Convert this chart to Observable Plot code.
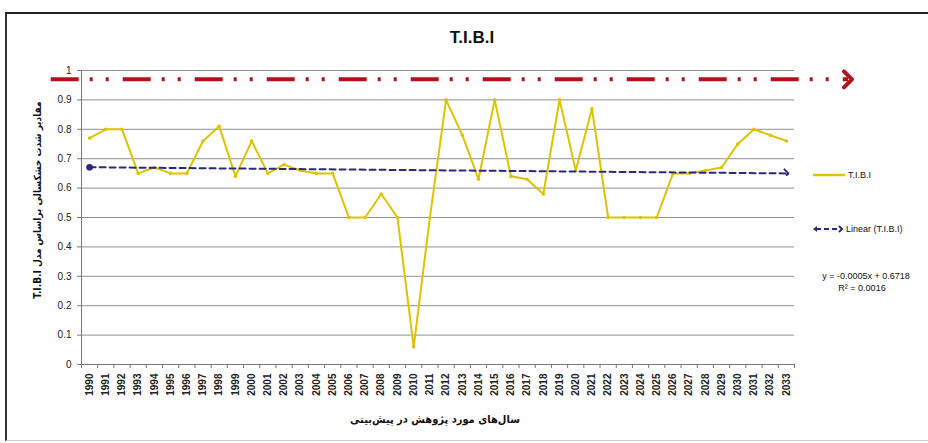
<!DOCTYPE html>
<html><head><meta charset="utf-8">
<script src="https://cdn.jsdelivr.net/npm/d3@7"></script>
<script src="https://cdn.jsdelivr.net/npm/@observablehq/plot@0.6"></script>
<style>
body{margin:0;background:#fff;}
#wrap{position:relative;width:928px;height:443px;overflow:hidden;font-family:"Liberation Sans Narrow","Liberation Sans","DejaVu Sans",Arial,sans-serif;}
#wrap svg.plot{position:absolute;left:0;top:0;}
.frame{position:absolute;left:5px;top:12px;width:940px;height:426px;border-top:2px solid #222;border-left:2px solid #333;border-bottom:1px solid #ccc;}
.t{position:absolute;white-space:nowrap;color:#111;}
</style></head><body>
<div id="wrap">
  <div class="frame"></div>
</div>
<script>
// ---- data ----
const years = [1990,1991,1992,1993,1994,1995,1996,1997,1998,1999,2000,2001,2002,2003,2004,2005,2006,2007,2008,2009,2010,2011,2012,2013,2014,2015,2016,2017,2018,2019,2020,2021,2022,2023,2024,2025,2026,2027,2028,2029,2030,2031,2032,2033];
const tibi = [0.77,0.80,0.80,0.65,0.67,0.65,0.65,0.76,0.81,0.64,0.76,0.65,0.68,0.66,0.65,0.65,0.50,0.50,0.58,0.50,0.06,0.50,0.90,0.78,0.63,0.90,0.64,0.63,0.58,0.90,0.66,0.87,0.50,0.50,0.50,0.50,0.65,0.65,0.66,0.67,0.75,0.80,0.78,0.76];
const trendYears = [1990, 2033];
const trendValues = [0.671, 0.650];
const thresholdValue = 0.97;
const thresholdSpan = [1987.6, 2036.8];
const yTicks = [0,0.1,0.2,0.3,0.4,0.5,0.6,0.7,0.8,0.9,1];
const titleText = "T.I.B.I";
const yTitle = "مقادیر شدت خشکسالی براساس مدل T.I.B.I";
const xTitle = "سال‌های مورد پژوهش در پیش‌بینی";
const seriesName = "T.I.B.I";
const trendName = "Linear (T.I.B.I)";
const eqLine1 = "y = -0.0005x + 0.6718";
const eqLine2 = "R² = 0.0016";

// ---- build ----
const series = years.map((y, i) => ({year: y, v: tibi[i]}));
const trend = trendYears.map((y, i) => ({year: y, v: trendValues[i]}));
const xDomain = [years[0] - 0.5, years[years.length - 1] + 0.5];
const bounds = d3.range(xDomain[0], xDomain[1] + 0.01, 1);
const yellow = "#dcc400";
const navy = "#2b2a78";
const red = "#b3121c";

const chart = Plot.plot({
  width: 928, height: 443,
  marginLeft: 81, marginRight: 134, marginTop: 70, marginBottom: 79,
  style: {fontFamily: '"Liberation Sans Narrow","Liberation Sans",Arial,sans-serif', fontSize: "10px", color: "#222", background: "transparent"},
  x: {type: "linear", domain: xDomain},
  y: {domain: [0, 1]},
  marks: [
    Plot.gridY({ticks: yTicks, stroke: "#8f8f8f", strokeOpacity: 1, strokeWidth: 1}),
    Plot.axisY({ticks: yTicks, tickSize: 4, tickPadding: 6, stroke: "#777", tickFormat: d => String(+d.toFixed(1)), label: null, fontSize: 10}),
    Plot.axisX({ticks: bounds, tickSize: 4, tickFormat: () => "", label: null, stroke: "#777"}),
    Plot.axisX({ticks: years, tickSize: 0, tickPadding: 9, tickRotate: -90, tickFormat: d => `${d}`, label: null, fontWeight: "bold", fontSize: 10}),
    Plot.ruleY([0], {stroke: "#777"}),
    Plot.ruleX([xDomain[0]], {stroke: "#777"}),
    Plot.link([thresholdValue], {x1: () => thresholdSpan[0], x2: () => thresholdSpan[1], y1: d => d, y2: d => d, stroke: red, strokeWidth: 4, strokeDasharray: "28,11,3,13,3,14", markerEnd: "arrow"}),
    Plot.line(series, {x: "year", y: "v", stroke: yellow, strokeWidth: 2}),
    Plot.dot(series, {x: "year", y: "v", r: 1.8, fill: yellow}),
    Plot.line(trend, {x: "year", y: "v", stroke: navy, strokeWidth: 2, strokeDasharray: "6,4", markerStart: "dot", markerEnd: "arrow"})
  ]
});
chart.classList.add("plot");
const wrap = document.getElementById("wrap");
wrap.appendChild(chart);

function addText(txt, css) {
  const d = document.createElement("div");
  d.className = "t";
  d.textContent = txt;
  Object.assign(d.style, css);
  wrap.appendChild(d);
  return d;
}
addText(titleText, {left: "472px", top: "38px", transform: "translate(-50%,-50%)", fontSize: "17px", fontWeight: "bold"});
addText(yTitle, {left: "37px", top: "200px", transform: "translate(-50%,-50%) rotate(-90deg)", fontSize: "10px", fontWeight: "bold", direction: "rtl", fontFamily: '"DejaVu Sans Condensed","DejaVu Sans",sans-serif'});
addText(xTitle, {left: "435px", top: "419px", transform: "translate(-50%,-50%)", fontSize: "11px", fontWeight: "bold", fontFamily: '"DejaVu Sans Condensed","DejaVu Sans",sans-serif', direction: "rtl"});

// legend
const lg = document.createElementNS("http://www.w3.org/2000/svg", "svg");
lg.setAttribute("width", "40"); lg.setAttribute("height", "80");
lg.style.position = "absolute"; lg.style.left = "808px"; lg.style.top = "165px";
lg.innerHTML = `<line x1="5" y1="10" x2="37" y2="10" stroke="${yellow}" stroke-width="2.5"/>
<line x1="8" y1="64" x2="32" y2="64" stroke="${navy}" stroke-width="2" stroke-dasharray="5,3"/>
<path d="M5,64 l4,-3 v6 z" fill="${navy}"/>
<path d="M31,61 l3,3 l-3,3" fill="none" stroke="${navy}" stroke-width="2"/>`;
wrap.appendChild(lg);
addText(seriesName, {left: "848px", top: "175px", transform: "translateY(-50%)", fontSize: "9px"});
addText(trendName, {left: "846px", top: "229px", transform: "translateY(-50%)", fontSize: "9px"});
addText(eqLine1, {left: "866px", top: "276px", transform: "translate(-50%,-50%)", fontSize: "9px"});
addText(eqLine2, {left: "862px", top: "288px", transform: "translate(-50%,-50%)", fontSize: "9px"});
</script>
</body></html>
